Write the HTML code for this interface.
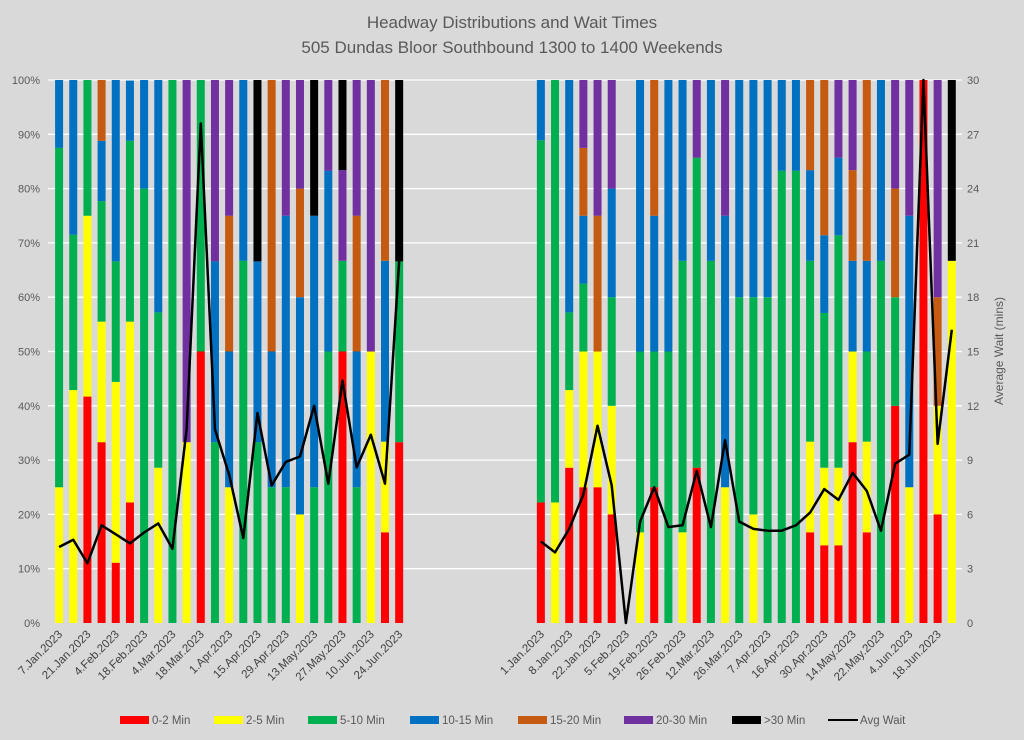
<!DOCTYPE html>
<html><head><meta charset="utf-8"><style>
html,body{margin:0;padding:0;background:#d9d9d9;}
svg{display:block;font-family:"Liberation Sans",Calibri,sans-serif;}
</style></head><body>
<svg id="c" width="1024" height="740" xmlns="http://www.w3.org/2000/svg">
<rect width="1024" height="740" fill="#d9d9d9"/>
<text x="512" y="28" text-anchor="middle" font-size="17" fill="#595959">Headway Distributions and Wait Times</text>
<text x="512" y="53" text-anchor="middle" font-size="17" fill="#595959">505 Dundas  Bloor Southbound 1300 to 1400 Weekends</text>
<g id="grid"></g><g id="bars"></g><g id="line"></g><g id="axes"></g>
<text transform="translate(1003,351) rotate(-90)" text-anchor="middle" font-size="12" fill="#595959">Average Wait (mins)</text>
<g id="legend"></g>
</svg>
<script>
// categories: 64 slots, empty string = gap
const labels = ["7.Jan.2023","","21.Jan.2023","","4.Feb.2023","","18.Feb.2023","","4.Mar.2023","","18.Mar.2023","","1.Apr.2023","","15.Apr.2023","","29.Apr.2023","","13.May.2023","","27.May.2023","","10.Jun.2023","","24.Jun.2023",
"","","","","","","","","",
"1.Jan.2023","","8.Jan.2023","","22.Jan.2023","","5.Feb.2023","","19.Feb.2023","","26.Feb.2023","","12.Mar.2023","","26.Mar.2023","","7.Apr.2023","","16.Apr.2023","","30.Apr.2023","","14.May.2023","","22.May.2023","","4.Jun.2023","","18.Jun.2023",""];
const seriesNames = ["0-2 Min","2-5 Min","5-10 Min","10-15 Min","15-20 Min","20-30 Min",">30 Min"];
const seriesColors = ["#ff0000","#ffff00","#00b050","#0070c0","#c55a11","#7030a0","#000000"];
const E=null;
const s02  = [0,0,41.7,33.3,11.1,22.2,0,0,0,0,50,0,0,0,0,0,0,0,0,0,50,0,0,16.7,33.3, E,E,E,E,E,E,E,E,E, 22.2,0,28.6,25,25,20,0,0,25,0,0,28.6,0,0,0,0,0,0,0,16.7,14.3,14.3,33.3,16.7,0,40,0,100,20,0];
const s25  = [25,42.9,33.3,22.2,33.3,33.3,0,28.6,0,33.3,0,0,25,0,0,0,0,20,0,0,0,0,50,16.7,0, E,E,E,E,E,E,E,E,E, 0,22.2,14.3,25,25,20,0,16.7,0,0,16.7,0,0,25,0,20,0,0,0,16.7,14.3,14.3,16.7,16.7,0,0,25,0,20,66.7];
const s510 = [62.5,28.6,25,22.2,22.2,33.3,80,28.6,100,0,50,33.3,0,66.7,33.3,25,25,0,25,50,16.7,25,0,0,33.3, E,E,E,E,E,E,E,E,E, 66.7,77.8,14.3,12.5,0,20,0,33.3,25,50,50,57.1,66.7,0,60,40,60,83.3,83.3,33.3,28.5,42.8,0,16.6,66.7,20,0,0,0,0];
const s1015= [12.5,28.5,0,11.1,33.4,11.1,20,42.8,0,0,0,33.3,25,33.3,33.3,25,50,40,50,33.3,0,25,0,33.3,0, E,E,E,E,E,E,E,E,E, 11.1,0,42.9,12.5,0,20,0,50,25,50,33.3,0,33.3,50,40,40,40,16.7,16.7,16.7,14.3,14.3,16.7,16.7,33.3,0,50,0,0,0];
const s1520= [0,0,0,11.2,0,0,0,0,0,0,0,0,25,0,0,50,0,20,0,0,0,25,0,33.4,0, E,E,E,E,E,E,E,E,E, 0,0,0,12.5,25,0,0,0,25,0,0,0,0,0,0,0,0,0,0,16.6,28.6,0,16.7,33.3,0,20,0,0,20,0];
const s2030= [0,0,0,0,0,0,0,0,0,66.7,0,33.4,25,0,0,0,25,20,0,16.7,16.7,25,50,0,0, E,E,E,E,E,E,E,E,E, 0,0,0,12.5,25,20,0,0,0,0,0,14.3,0,25,0,0,0,0,0,0,0,14.3,16.6,0,0,20,25,0,40,0];
const s30  = [0,0,0,0,0,0,0,0,0,0,0,0,0,0,33.4,0,0,0,25,0,16.6,0,0,0,33.4, E,E,E,E,E,E,E,E,E, 0,0,0,0,0,0,0,0,0,0,0,0,0,0,0,0,0,0,0,0,0,0,0,0,0,0,0,0,0,33.3];
const avgWait = [4.2,4.6,3.3,5.4,4.9,4.4,5.0,5.5,4.1,10.7,27.6,10.7,8.2,4.7,11.6,7.6,8.9,9.2,12.0,7.7,13.4,8.6,10.4,7.7,20.0, E,E,E,E,E,E,E,E,E, 4.5,3.9,5.2,7.1,10.9,7.6,0,5.6,7.5,5.3,5.4,8.4,5.3,10.1,5.6,5.2,5.1,5.1,5.4,6.1,7.4,6.8,8.3,7.3,5.1,8.8,9.3,30,9.9,16.2];
const pctTicks = ["0%","10%","20%","30%","40%","50%","60%","70%","80%","90%","100%"];
const waitTicks = ["0","3","6","9","12","15","18","21","24","27","30"];

const NS="http://www.w3.org/2000/svg";
const X0=52, SW=14.17, Y0=623, Y1=80, BW=8;
const xc=i=>X0+SW*(i+0.5);
const yp=p=>Y0-(Y0-Y1)*p/100;
const yw=w=>Y0-(Y0-Y1)*w/30;
function mk(tag,parent){const e=document.createElementNS(NS,tag);document.getElementById(parent).appendChild(e);return e;}
pctTicks.forEach((t,k)=>{
  const y=yp(k*10);
  if(k>0){const l=mk('line','grid');l.setAttribute('x1',48);l.setAttribute('x2',962);l.setAttribute('y1',y);l.setAttribute('y2',y);l.setAttribute('stroke','#ffffff');l.setAttribute('stroke-width','1.3');
  
  }
  const a=mk('text','axes');a.setAttribute('x',40);a.setAttribute('y',y+4);a.setAttribute('text-anchor','end');a.setAttribute('font-size','11');a.setAttribute('fill','#595959');a.textContent=t;
  
  
  const b=mk('text','axes');b.setAttribute('x',967);b.setAttribute('y',yw(k*3)+4);b.setAttribute('font-size','11');b.setAttribute('fill','#595959');b.textContent=waitTicks[k];
  
  
});
const all=[s02,s25,s510,s1015,s1520,s2030,s30];
labels.forEach((lab,i)=>{
  let cum=0;
  all.forEach((s,k)=>{
    const v=s[i]; if(v===null||!v) return;
    const r=mk('rect','bars');
    r.setAttribute('x',xc(i)-BW/2);r.setAttribute('width',BW);
    r.setAttribute('y',yp(Math.min(100,cum+v)));r.setAttribute('height',yp(cum)-yp(Math.min(100,cum+v)));
    r.setAttribute('fill',seriesColors[k]);
    
    
    cum+=v;
  });
  if(lab){
    const t=mk('text','axes');
    t.setAttribute('transform','translate('+(xc(i)+4)+',635) rotate(-45)');
    t.setAttribute('text-anchor','end');t.setAttribute('font-size','11.5');t.setAttribute('fill','#404040');t.textContent=lab;
    
    
  }
});
let segs=[],cur=[];
avgWait.forEach((v,i)=>{ if(v===null){if(cur.length)segs.push(cur);cur=[];} else cur.push(xc(i)+','+yw(v)); });
if(cur.length)segs.push(cur);
segs.forEach(sg=>{
  const p=mk('polyline','line');p.setAttribute('points',sg.join(' '));p.setAttribute('fill','none');p.setAttribute('stroke','#000');p.setAttribute('stroke-width','2.5');p.setAttribute('stroke-linejoin','round');
  
  
});
const lx=[120,214,308,410,518,624,732];
seriesNames.forEach((n,k)=>{
  const r=mk('rect','legend');r.setAttribute('x',lx[k]);r.setAttribute('y',716);r.setAttribute('width',29);r.setAttribute('height',8);r.setAttribute('fill',seriesColors[k]);
  
  
  const t=mk('text','legend');t.setAttribute('x',lx[k]+32);t.setAttribute('y',724);t.setAttribute('font-size','11.5');t.setAttribute('fill','#595959');t.textContent=n;
  
  
});
const ll=mk('line','legend');ll.setAttribute('x1',828);ll.setAttribute('x2',858);ll.setAttribute('y1',720);ll.setAttribute('y2',720);ll.setAttribute('stroke','#000');ll.setAttribute('stroke-width','2');


const lt=mk('text','legend');lt.setAttribute('x',860);lt.setAttribute('y',724);lt.setAttribute('font-size','11.5');lt.setAttribute('fill','#595959');lt.textContent='Avg Wait';


</script>
</body></html>
